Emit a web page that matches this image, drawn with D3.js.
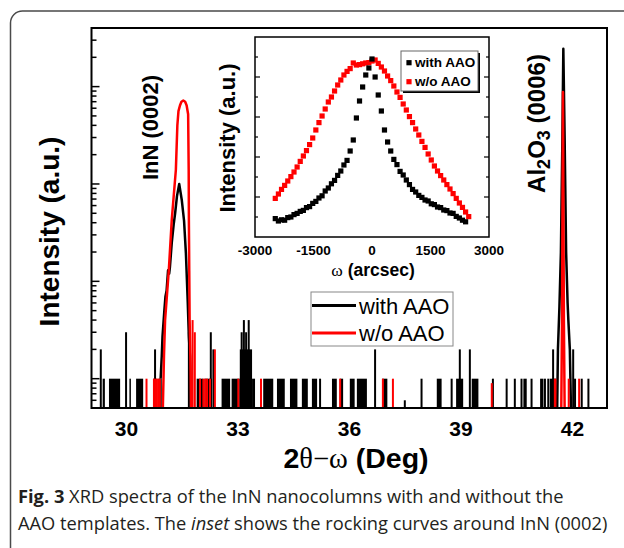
<!DOCTYPE html>
<html>
<head>
<meta charset="utf-8">
<script src="https://cdn.jsdelivr.net/npm/d3@7"></script>
<style>
  body { margin: 0; background: #fff; }
  svg { display: block; }
</style>
</head>
<body>
<svg id="chart"></svg>
<script>
const width = 624;
const height = 548;

// inset: rocking curves around InN (0002), omega in arcsec
const omegaWithAAO = [-2480, -2400, -2320, -2240, -2160, -2080, -2000, -1920, -1840, -1760, -1680, -1600, -1520, -1440, -1360, -1280, -1200, -1120, -1040, -960, -880, -800, -720, -640, -560, -480, -400, -320, -240, -160, -80, 0, 80, 160, 240, 320, 400, 480, 560, 640, 720, 800, 880, 960, 1040, 1120, 1200, 1280, 1360, 1440, 1520, 1600, 1680, 1760, 1840, 1920, 2000, 2080, 2160, 2240, 2320, 2400];
const rockWithAAO = [0.92, 0.8, 0.86, 0.84, 0.97, 1.0, 1.12, 1.18, 1.28, 1.33, 1.47, 1.52, 1.68, 1.78, 1.95, 2.06, 2.3, 2.45, 2.66, 2.83, 3.08, 3.3, 3.6, 3.83, 4.3, 4.85, 5.95, 6.8, 7.5, 8.1, 8.45, 8.9, 8.0, 7.1, 6.3, 5.35, 4.75, 4.3, 3.88, 3.62, 3.28, 3.1, 2.85, 2.62, 2.38, 2.25, 2.08, 1.98, 1.85, 1.8, 1.66, 1.62, 1.5, 1.47, 1.35, 1.32, 1.2, 1.18, 1.03, 0.95, 0.84, 0.76];
const omegaWithoutAAO = [-2480, -2400, -2320, -2240, -2160, -2080, -2000, -1920, -1840, -1760, -1680, -1600, -1520, -1440, -1360, -1280, -1200, -1120, -1040, -960, -880, -800, -720, -640, -560, -480, -400, -320, -240, -160, -80, 0, 80, 160, 240, 320, 400, 480, 560, 640, 720, 800, 880, 960, 1040, 1120, 1200, 1280, 1360, 1440, 1520, 1600, 1680, 1760, 1840, 1920, 2000, 2080, 2160, 2240, 2320, 2400, 2480];
const rockWithoutAAO = [1.93, 2.15, 2.38, 2.58, 2.8, 3.02, 3.25, 3.5, 3.78, 4.05, 4.32, 4.62, 4.95, 5.35, 5.72, 6.05, 6.4, 6.75, 7.0, 7.3, 7.6, 7.85, 8.1, 8.28, 8.42, 8.7, 8.6, 8.62, 8.66, 8.7, 8.72, 8.8, 8.85, 8.68, 8.5, 8.3, 8.05, 7.82, 7.55, 7.25, 6.98, 6.65, 6.35, 6.02, 5.72, 5.4, 5.1, 4.78, 4.48, 4.15, 3.85, 3.55, 3.3, 3.07, 2.85, 2.62, 2.4, 2.17, 1.93, 1.7, 1.48, 1.25, 1.02];
const insetTicks = [-3000, -1500, 0, 1500, 3000];
const insetLevels = [1, 2, 3, 4, 5, 6, 7, 8, 9];

// main: 2theta-omega scan (deg, counts)
const xrdTicks = [30, 33, 36, 39, 42];

const withInN = [[30.92, 1], [30.95, 1.7], [30.97, 2.7], [31.02, 5], [31.05, 7], [31.08, 8], [31.12, 13], [31.15, 12], [31.17, 14], [31.22, 25], [31.27, 38], [31.31, 50], [31.36, 75], [31.42, 100], [31.49, 68], [31.55, 42], [31.60, 19.5], [31.65, 6], [31.68, 2.7], [31.71, 1.7], [31.74, 0]];
const withAl2O3 = [[41.59, 0], [41.61, 2], [41.65, 5.5], [41.69, 20], [41.73, 300], [41.755, 2450], [41.79, 300], [41.83, 20], [41.87, 6], [41.89, 4], [41.93, 2], [41.96, 0]];
const withNoise = [[29.36, 29.42, 1], [29.53, 29.83, 1], [30.08, 30.12, 1], [30.26, 30.45, 1], [30.72, 30.81, 1], [30.86, 30.95, 1], [31.89, 32.07, 1], [32.10, 32.30, 1], [32.56, 32.79, 1], [32.83, 33.05, 1], [33.05, 33.24, 2], [33.24, 33.38, 2], [33.38, 33.46, 1], [33.68, 33.95, 1], [34.05, 34.26, 1], [34.40, 34.60, 1], [34.72, 34.88, 1], [34.99, 35.13, 1], [35.53, 35.66, 1], [35.74, 35.83, 1], [36.01, 36.14, 1], [36.20, 36.47, 1], [36.88, 37.02, 1], [38.35, 38.48, 1], [38.87, 39.06, 1], [39.29, 39.47, 1], [40.68, 40.77, 1], [41.13, 41.22, 1], [41.39, 41.57, 1]];
const withSpikes = [[29.31, 2], [29.99, 3], [30.77, 2], [31.68, 3], [32.27, 3], [32.34, 2], [33.10, 3], [33.16, 4], [33.22, 3], [33.29, 4], [35.21, 1], [36.69, 2], [37.49, 0.6], [37.94, 1], [38.75, 1], [38.97, 2], [39.24, 2], [39.86, 1], [40.23, 1], [40.45, 1], [40.63, 1], [40.90, 1], [41.26, 1], [41.35, 1], [41.48, 2], [42.02, 2], [42.07, 1], [42.25, 1], [42.43, 1]];

const withoutInN = [[30.98, 0], [31.01, 1.7], [31.04, 4], [31.14, 13], [31.22, 43], [31.33, 140], [31.37, 400], [31.40, 560], [31.44, 640], [31.48, 700], [31.53, 720], [31.58, 700], [31.62, 640], [31.66, 520], [31.675, 140], [31.68, 43], [31.69, 13], [31.70, 4], [31.72, 1.7], [31.74, 0]];
const withoutAl2O3 = [[41.70, 0], [41.72, 4], [41.745, 880], [41.77, 4], [41.79, 0]];
const withoutNoise = [[41.50, 41.57, 1]];
const withoutSpikes = [[30.54, 1], [30.74, 1], [30.78, 1], [30.82, 1], [30.86, 1], [30.90, 1], [31.78, 4], [31.84, 3], [31.98, 1], [32.07, 1], [32.12, 1], [32.17, 1], [32.25, 1], [32.38, 2], [33.01, 1], [33.62, 1], [35.75, 1], [36.90, 1], [37.17, 1], [39.83, 0.9], [41.90, 1], [42.18, 1]];

const svg = d3.select('#chart')
  .attr('width', width)
  .attr('height', height)
  .style('font-family', 'Arial, "Liberation Sans", sans-serif');

// rounded figure box
svg.append('rect')
  .attr('x', 10.5).attr('y', 11)
  .attr('width', 640).attr('height', 560)
  .attr('rx', 12)
  .attr('fill', 'none')
  .attr('stroke', '#4a4a4a')
  .attr('stroke-width', 1.5);

const x = d3.scaleLinear().domain([29.06, 42.93]).range([91.5, 607]);
const y = d3.scaleLog().domain([0.5, 4000]).range([408, 28]);
const yc = c => y(Math.max(c, 0.5));

const main = svg.append('g');

const drawSeries = (noise, spikes, peaks, color) => {
  main.append('g')
    .selectAll('rect')
    .data(noise)
    .enter()
    .append('rect')
      .attr('x', d => x(d[0]))
      .attr('width', d => x(d[1]) - x(d[0]))
      .attr('y', d => yc(d[2]))
      .attr('height', d => y(0.5) - yc(d[2]))
      .attr('fill', color);

  main.append('g')
    .selectAll('line')
    .data(spikes)
    .enter()
    .append('line')
      .attr('x1', d => x(d[0]))
      .attr('x2', d => x(d[0]))
      .attr('y1', y(0.5))
      .attr('y2', d => yc(d[1]))
      .attr('stroke', color)
      .attr('stroke-width', 2);

  const line = d3.line().x(d => x(d[0])).y(d => yc(d[1]));
  peaks.forEach(p => {
    main.append('path')
      .attr('d', line(p))
      .attr('fill', 'none')
      .attr('stroke', color)
      .attr('stroke-width', 2.5)
      .attr('stroke-linejoin', 'round');
  });
};

drawSeries(withNoise, withSpikes, [withInN, withAl2O3], '#000');
drawSeries(withoutNoise, withoutSpikes, [withoutInN, withoutAl2O3], '#ff0000');

// frame
svg.append('rect')
  .attr('x', 91.5).attr('y', 28)
  .attr('width', 607 - 91.5).attr('height', 408 - 28)
  .attr('fill', 'none')
  .attr('stroke', '#000')
  .attr('stroke-width', 2);

// log ticks on the left, inside
let logTicks = [];
[0.1, 1, 10, 100, 1000].forEach(dec => {
  for (let k = 1; k <= 9; k++) {
    const v = k * dec;
    if (v > 0.5 && v < 4000) logTicks.push({v: v, major: k === 1});
  }
});
svg.append('g')
  .selectAll('line')
  .data(logTicks)
  .enter()
  .append('line')
    .attr('x1', 91.5)
    .attr('x2', d => 91.5 + (d.major ? 8 : 5))
    .attr('y1', d => y(d.v))
    .attr('y2', d => y(d.v))
    .attr('stroke', '#000')
    .attr('stroke-width', 1.5);

svg.append('g')
  .selectAll('text')
  .data(xrdTicks)
  .enter()
  .append('text')
    .attr('x', d => x(d))
    .attr('y', 436)
    .attr('text-anchor', 'middle')
    .style('font-size', '21px')
    .style('font-weight', 'bold')
    .text(d => d);

const xLabel = svg.append('text')
  .attr('x', 356).attr('y', 468)
  .attr('text-anchor', 'middle')
  .style('font-size', '28.5px')
  .style('font-weight', 'bold');
xLabel.append('tspan').text('2');
xLabel.append('tspan').style('font-weight', 'normal').style('font-family', '"Liberation Serif", serif').text('θ−ω');
xLabel.append('tspan').text(' (Deg)');

svg.append('text')
  .attr('transform', 'translate(59,231.5) rotate(-90)')
  .attr('text-anchor', 'middle')
  .style('font-size', '28px')
  .style('font-weight', 'bold')
  .text('Intensity (a.u.)');

svg.append('text')
  .attr('transform', 'translate(158,127.5) rotate(-90)')
  .attr('text-anchor', 'middle')
  .style('font-size', '22px')
  .style('font-weight', 'bold')
  .text('InN (0002)');

const alLabel = svg.append('text')
  .attr('transform', 'translate(545,123.5) rotate(-90)')
  .attr('text-anchor', 'middle')
  .style('font-size', '24px')
  .style('font-weight', 'bold');
alLabel.append('tspan').text('Al');
alLabel.append('tspan').attr('dy', 5).style('font-size', '18px').text('2');
alLabel.append('tspan').attr('dy', -5).text('O');
alLabel.append('tspan').attr('dy', 5).style('font-size', '18px').text('3');
alLabel.append('tspan').attr('dy', -5).text(' (0006)');

// main legend
const legend = svg.append('g');
legend.append('rect')
  .attr('x', 311).attr('y', 292)
  .attr('width', 142).attr('height', 54)
  .attr('fill', '#fff')
  .attr('stroke', '#888')
  .attr('stroke-width', 1);
[['with AAO', '#000', 305.5], ['w/o AAO', '#ff0000', 333]].forEach(e => {
  legend.append('line')
    .attr('x1', 312).attr('x2', 356)
    .attr('y1', e[2]).attr('y2', e[2])
    .attr('stroke', e[1])
    .attr('stroke-width', 3);
  legend.append('text')
    .attr('x', 359).attr('y', e[2] + 8)
    .style('font-size', '22px')
    .text(e[0]);
});

// inset
const ix = d3.scaleLinear().domain([-3000, 3000]).range([255, 489]);
const iy = d3.scaleLinear().domain([0, 10]).range([237, 37]);
const inset = svg.append('g');

inset.append('rect')
  .attr('x', 255).attr('y', 37)
  .attr('width', 234).attr('height', 200)
  .attr('fill', '#fff');

const sq = 5.2;
inset.append('g')
  .selectAll('rect')
  .data(omegaWithoutAAO.map((w, i) => [w, rockWithoutAAO[i]]))
  .enter()
  .append('rect')
    .attr('x', d => ix(d[0]) - sq / 2)
    .attr('y', d => iy(d[1]) - sq / 2)
    .attr('width', sq).attr('height', sq)
    .attr('fill', '#ff0000');

inset.append('g')
  .selectAll('rect')
  .data(omegaWithAAO.map((w, i) => [w, rockWithAAO[i]]))
  .enter()
  .append('rect')
    .attr('x', d => ix(d[0]) - sq / 2)
    .attr('y', d => iy(d[1]) - sq / 2)
    .attr('width', sq).attr('height', sq)
    .attr('fill', '#000');

inset.append('rect')
  .attr('x', 255).attr('y', 37)
  .attr('width', 234).attr('height', 200)
  .attr('fill', 'none')
  .attr('stroke', '#000')
  .attr('stroke-width', 1.5);

[[255, 1], [489, -1]].forEach(side => {
  inset.append('g')
    .selectAll('line')
    .data(insetLevels)
    .enter()
    .append('line')
      .attr('x1', side[0])
      .attr('x2', d => side[0] + side[1] * (d % 2 === 0 ? 5 : 3))
      .attr('y1', d => iy(d))
      .attr('y2', d => iy(d))
      .attr('stroke', '#000')
      .attr('stroke-width', 1.2);
});

inset.append('g')
  .selectAll('text')
  .data(insetTicks)
  .enter()
  .append('text')
    .attr('x', d => ix(d))
    .attr('y', 255)
    .attr('text-anchor', 'middle')
    .style('font-size', '13.5px')
    .style('font-weight', 'bold')
    .text(d => d);

const wLabel = inset.append('text')
  .attr('x', 373).attr('y', 276)
  .attr('text-anchor', 'middle')
  .style('font-size', '17.5px')
  .style('font-weight', 'bold');
wLabel.append('tspan').style('font-weight', 'normal').style('font-family', '"Liberation Serif", serif').text('ω');
wLabel.append('tspan').text(' (arcsec)');

inset.append('text')
  .attr('transform', 'translate(235,138) rotate(-90)')
  .attr('text-anchor', 'middle')
  .style('font-size', '22px')
  .style('font-weight', 'bold')
  .text('Intensity (a.u.)');

// inset legend with shadow
inset.append('rect')
  .attr('x', 403).attr('y', 53)
  .attr('width', 77).attr('height', 40)
  .attr('fill', '#000');
inset.append('rect')
  .attr('x', 401).attr('y', 51)
  .attr('width', 77).attr('height', 40)
  .attr('fill', '#fff')
  .attr('stroke', '#666')
  .attr('stroke-width', 1);
[['with AAO', '#000', 62.7], ['w/o AAO', '#ff0000', 81.7]].forEach(e => {
  inset.append('rect')
    .attr('x', 409 - sq / 2).attr('y', e[2] - sq / 2)
    .attr('width', sq).attr('height', sq)
    .attr('fill', e[1]);
  inset.append('text')
    .attr('x', 415).attr('y', e[2] + 4.5)
    .style('font-size', '13.5px')
    .style('font-weight', 'bold')
    .text(e[0]);
});

// caption
const caption = svg.append('g')
  .style('font-family', '"Open Sans", sans-serif')
  .style('font-size', '18.3px')
  .attr('fill', '#231f20');
const c1 = caption.append('text').attr('x', 18).attr('y', 503);
c1.append('tspan').style('font-weight', 'bold').text('Fig. 3');
c1.append('tspan').text(' XRD spectra of the InN nanocolumns with and without the');
const c2 = caption.append('text').attr('x', 18).attr('y', 530);
c2.append('tspan').text('AAO templates. The ');
c2.append('tspan').style('font-style', 'italic').text('inset');
c2.append('tspan').text(' shows the rocking curves around InN (0002)');
</script>
</body>
</html>
